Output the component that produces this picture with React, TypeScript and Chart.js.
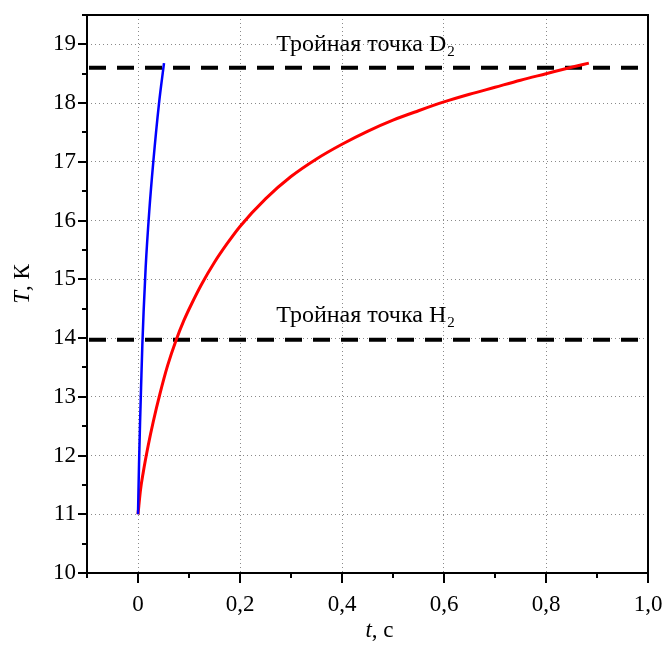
import React, { useEffect, useRef } from "react";
import { Chart, registerables } from "chart.js";

Chart.register(...registerables);

// ---- data ----
const redTime = [0, 0.005, 0.01, 0.02, 0.03, 0.043, 0.058, 0.0745, 0.09, 0.105, 0.125, 0.15, 0.175, 0.2, 0.25, 0.3, 0.35, 0.4, 0.45, 0.5, 0.55, 0.6, 0.65, 0.7, 0.75, 0.8, 0.85, 0.884];
const redTemp = [11, 11.42, 11.7, 12.17, 12.58, 13.05, 13.53, 13.96, 14.3, 14.58, 14.92, 15.29, 15.61, 15.9, 16.37, 16.75, 17.05, 17.3, 17.52, 17.71, 17.87, 18.02, 18.15, 18.27, 18.39, 18.5, 18.61, 18.68];

const blueTime = [0, 0.002, 0.004, 0.006, 0.0085, 0.011, 0.015, 0.022, 0.03, 0.041, 0.051];
const blueTemp = [11, 11.85, 12.55, 13.15, 13.88, 14.45, 15.2, 16.15, 17.0, 17.98, 18.68];

const tripleD2 = 18.6;
const tripleH2 = 13.97;

const xRange = [-0.1, 1.0];
const yRange = [10, 19.5];
const xTickValues = [0, 0.2, 0.4, 0.6, 0.8, 1.0];
const xTickLabels = ["0", "0,2", "0,4", "0,6", "0,8", "1,0"];
const yTickValues = [10, 11, 12, 13, 14, 15, 16, 17, 18, 19];
const yTickLabels = ["10", "11", "12", "13", "14", "15", "16", "17", "18", "19"];

const labelD2 = { main: "Тройная точка D", sub: "2" };
const labelH2 = { main: "Тройная точка H", sub: "2" };
const xTitle = { italic: "t", rest: ", с" };
const yTitle = { italic: "T", rest: ", К" };

const FONT = "'Liberation Serif', 'Times New Roman', serif";

const near = (arr: number[], v: number) => arr.findIndex((a) => Math.abs(a - v) < 1e-6);

const overlayPlugin = {
  id: "overlay",
  afterDraw(chart: any) {
    const { ctx, chartArea: area } = chart;
    const xs = chart.scales.x;
    const ys = chart.scales.y;
    ctx.save();
    ctx.strokeStyle = "#000";
    ctx.lineWidth = 2;
    ctx.setLineDash([]);
    // tick marks
    for (const t of xs.ticks) {
      const px = Math.round(xs.getPixelForValue(t.value));
      const len = near(xTickValues, t.value) >= 0 ? 10 : 5;
      ctx.beginPath();
      ctx.moveTo(px, area.bottom);
      ctx.lineTo(px, area.bottom + len);
      ctx.stroke();
    }
    for (const t of ys.ticks) {
      const py = Math.round(ys.getPixelForValue(t.value));
      const len = near(yTickValues, t.value) >= 0 ? 9 : 5;
      ctx.beginPath();
      ctx.moveTo(area.left, py);
      ctx.lineTo(area.left - len, py);
      ctx.stroke();
    }
    // frame
    ctx.strokeRect(area.left, area.top, area.right - area.left, area.bottom - area.top);

    // annotations
    const drawSub = (lbl: { main: string; sub: string }, cx: number, by: number) => {
      ctx.fillStyle = "#000";
      ctx.textBaseline = "alphabetic";
      ctx.textAlign = "left";
      ctx.font = `24px ${FONT}`;
      const mw = ctx.measureText(lbl.main).width;
      ctx.font = `15px ${FONT}`;
      const sw = ctx.measureText(lbl.sub).width;
      const x0 = cx - (mw + sw) / 2;
      ctx.font = `24px ${FONT}`;
      ctx.fillText(lbl.main, x0, by);
      ctx.font = `15px ${FONT}`;
      ctx.fillText(lbl.sub, x0 + mw + 1, by + 5);
    };
    const cx = xs.getPixelForValue(0.445);
    drawSub(labelD2, cx, ys.getPixelForValue(tripleD2) - 17);
    drawSub(labelH2, cx, ys.getPixelForValue(tripleH2) - 18);

    // axis titles
    const drawTitle = (ttl: { italic: string; rest: string }, cx2: number) => {
      ctx.font = `italic 23px ${FONT}`;
      const iw = ctx.measureText(ttl.italic).width;
      ctx.font = `23px ${FONT}`;
      const rw = ctx.measureText(ttl.rest).width;
      const x0 = cx2 - (iw + rw) / 2;
      ctx.font = `italic 23px ${FONT}`;
      ctx.fillText(ttl.italic, x0, 0);
      ctx.font = `23px ${FONT}`;
      ctx.fillText(ttl.rest, x0 + iw, 0);
    };
    ctx.fillStyle = "#000";
    ctx.save();
    ctx.translate(0, chart.height - 9);
    drawTitle(xTitle, (area.left + area.right) / 2 + 12);
    ctx.restore();
    ctx.save();
    ctx.translate(29, (area.top + area.bottom) / 2 - 10);
    ctx.rotate(-Math.PI / 2);
    drawTitle(yTitle, 0);
    ctx.restore();
    ctx.restore();
  },
};

export default function App() {
  const ref = useRef<HTMLCanvasElement | null>(null);
  useEffect(() => {
    if (!ref.current) return;
    const chart = new Chart(ref.current, {
      type: "line",
      data: {
        datasets: [
          {
            data: blueTime.map((t, i) => ({ x: t, y: blueTemp[i] })),
            borderColor: "#0000ff",
            borderWidth: 2.5,
            pointRadius: 0,
            cubicInterpolationMode: "monotone",
          },
          {
            data: redTime.map((t, i) => ({ x: t, y: redTemp[i] })),
            borderColor: "#ff0000",
            borderWidth: 3,
            pointRadius: 0,
            cubicInterpolationMode: "monotone",
          },
          {
            data: [{ x: xRange[0], y: tripleD2 }, { x: xRange[1], y: tripleD2 }],
            borderColor: "#000",
            borderWidth: 4,
            borderDash: [17, 11],
            borderDashOffset: -2,
            pointRadius: 0,
          },
          {
            data: [{ x: xRange[0], y: tripleH2 }, { x: xRange[1], y: tripleH2 }],
            borderColor: "#000",
            borderWidth: 4,
            borderDash: [17, 11],
            borderDashOffset: -2,
            pointRadius: 0,
          },
        ],
      },
      options: {
        responsive: false,
        animation: false,
        events: [],
        layout: { padding: { top: 15, right: 16, left: 0, bottom: 0 } },
        plugins: { legend: { display: false }, tooltip: { enabled: false } },
        scales: {
          x: {
            type: "linear",
            min: xRange[0],
            max: xRange[1],
            afterFit: (s: any) => {
              s.height = 73;
              s.paddingLeft = 0;
              s.paddingRight = 0;
            },
            ticks: {
              stepSize: 0.1,
              maxTicksLimit: 100,
              autoSkip: false,
              maxRotation: 0,
              padding: 18,
              color: "#000",
              font: { family: FONT, size: 23 },
              callback: (v: any) => {
                const i = near(xTickValues, Number(v));
                return i >= 0 ? xTickLabels[i] : "";
              },
            },
            grid: {
              drawTicks: false,
              lineWidth: 1,
              color: (c: any) => {
                const v = c.tick ? c.tick.value : NaN;
                return near(xTickValues, v) >= 0 && v > xRange[0] + 1e-6 && v < xRange[1] - 1e-6 ? "#8a8a8a" : "rgba(0,0,0,0)";
              },
            },
            border: { display: false, dash: [1, 3] },
          },
          y: {
            type: "linear",
            min: yRange[0],
            max: yRange[1],
            afterFit: (s: any) => {
              s.width = 87;
              s.paddingTop = 0;
              s.paddingBottom = 0;
            },
            ticks: {
              stepSize: 0.5,
              maxTicksLimit: 100,
              autoSkip: false,
              padding: 11,
              color: "#000",
              font: { family: FONT, size: 23 },
              callback: (v: any) => {
                const i = near(yTickValues, Number(v));
                return i >= 0 ? yTickLabels[i] : "";
              },
            },
            grid: {
              drawTicks: false,
              lineWidth: 1,
              color: (c: any) => {
                const v = c.tick ? c.tick.value : NaN;
                return near(yTickValues, v) >= 0 && v > yRange[0] + 1e-6 && v < yRange[1] - 1e-6 ? "#8a8a8a" : "rgba(0,0,0,0)";
              },
            },
            border: { display: false, dash: [1, 3] },
          },
        },
      },
      plugins: [overlayPlugin],
    } as any);
    return () => chart.destroy();
  }, []);
  return (
    <div style={{ position: "absolute", left: 0, top: 0, width: 664, height: 646, background: "#fff" }}>
      <canvas ref={ref} width={664} height={646} style={{ display: "block", width: 664, height: 646 }} />
    </div>
  );
}
